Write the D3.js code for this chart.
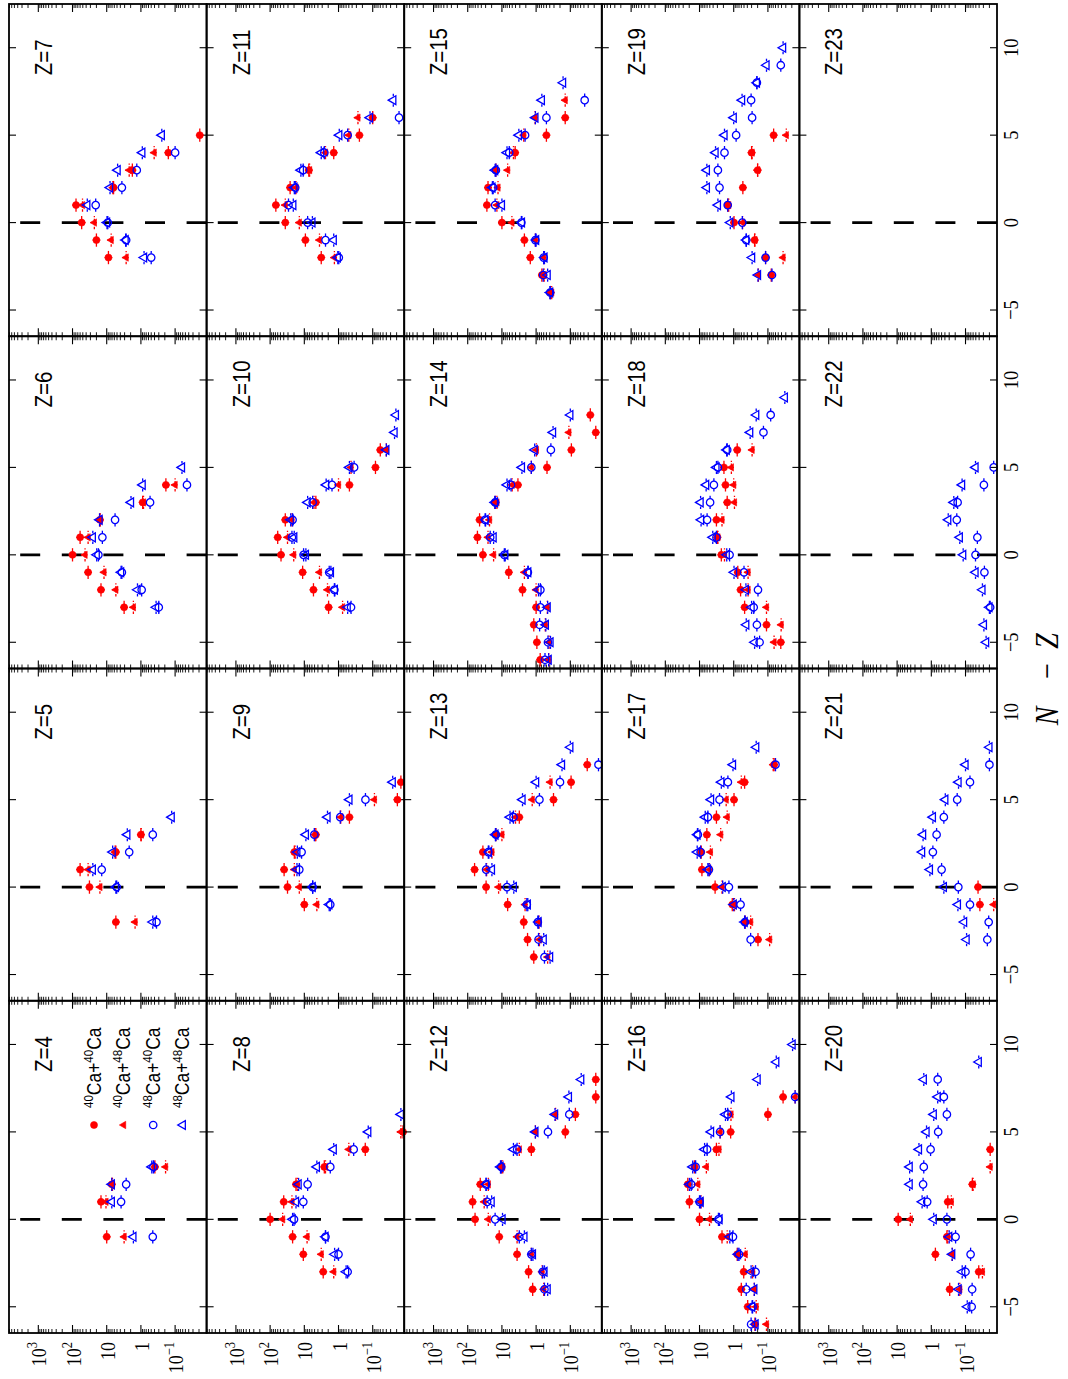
<!DOCTYPE html>
<html><head><meta charset="utf-8">
<script src="https://cdn.jsdelivr.net/npm/d3@7"></script>
<style>body{margin:0;background:#fff}</style>
</head><body>
<svg id="c" width="1068" height="1379" xmlns="http://www.w3.org/2000/svg"></svg>
<script>
// ---------------- data ----------------
const zValues = d3.range(4, 24);               // Z = 4 ... 23
const nzTicks = [-5, 0, 5, 10];
const nzTickLabels = ["\u22125", "0", "5", "10"];
const sigmaTicks = [1e3, 1e2, 1e1, 1, 1e-1];
const sigmaTickLabels = [["10","3"],["10","2"],["10",""],["1",""],["10","\u22121"]];
const legendLabels = [["40","Ca+","40","Ca"],["40","Ca+","48","Ca"],["48","Ca+","40","Ca"],["48","Ca+","48","Ca"]];
const xLabelParts = ["N", "\u2212", "Z"];

// each entry: [N-Z, cross section]
const ca40ca40 = {
 4:[[-1,10],[1,14.7],[2,7.1],[3,0.39]],
 5:[[-2,5.4],[0,32],[1,60],[2,5.4],[3,1.0]],
 6:[[-3,3.1],[-2,14.7],[-1,35],[0,100],[1,60],[2,15.8],[3,0.89],[4,0.186]],
 7:[[-2,8.9],[-1,20],[0,54],[1,79],[2,6.3],[3,1.78],[4,0.158],[5,0.019]],
 8:[[-3,2.8],[-2,10.7],[-1,22],[0,100],[1,40],[2,17.5],[3,2.6],[4,0.165],[5,0.013]],
 9:[[-1,10],[0,31],[1,39],[2,19.6],[3,4.6],[4,0.48],[5,0.019],[6,0.015]],
 10:[[-3,1.95],[-2,5.4],[-1,11.2],[0,48],[1,60],[2,36],[3,4.6],[4,0.48],[5,0.083],[6,0.06]],
 11:[[-2,3.2],[-1,9.3],[0,36],[1,68],[2,26],[3,7.4],[4,1.38],[5,0.245],[6,0.1]],
 12:[[-4,1.26],[-3,1.66],[-2,3.6],[-1,12],[0,61],[1,72],[2,43],[3,10.5],[4,1.38],[5,0.14],[6,0.071],[7,0.018],[8,0.018]],
 13:[[-4,1.17],[-3,1.78],[-2,2.3],[-1,6.8],[0,29],[1,63],[2,36],[3,15],[4,3.1],[5,0.31],[6,0.095],[7,0.032]],
 14:[[-6,0.76],[-5,0.95],[-4,1.17],[-3,1.0],[-2,2.5],[-1,6.3],[0,36],[1,52],[2,45],[3,15.8],[4,3.4],[5,0.48],[6,0.093],[7,0.018],[8,0.026]],
 15:[[-4,0.38],[-3,0.68],[-2,1.48],[-1,2.2],[0,10],[1,27.5],[2,25.5],[3,15],[4,4.1],[5,0.5],[6,0.141]],
 16:[[-6,0.24],[-5,0.39],[-4,0.6],[-3,0.51],[-2,0.79],[-1,2.2],[0,10],[1,19.7],[2,22],[3,14],[4,3.2],[5,1.23],[6,0.1],[7,0.036]],
 17:[[-3,0.195],[-2,0.46],[-1,1.1],[0,3.5],[1,8.5],[2,8.9],[3,6.1],[4,3.2],[5,0.98],[6,0.48],[7,0.066]],
 18:[[-5,0.042],[-4,0.11],[-3,0.48],[-2,0.63],[-1,0.76],[0,2.3],[1,3.0],[2,3.2],[3,1.55],[4,1.74],[5,1.93],[6,0.79]],
 19:[[-3,0.08],[-2,0.117],[-1,0.245],[0,0.98],[1,1.48],[2,0.54],[3,0.2],[4,0.3],[5,0.068]],
 20:[[-4,0.29],[-3,0.041],[-2,0.76],[-1,0.35],[0,9.3],[1,0.33],[2,0.063],[4,0.019]],
 21:[[-1,0.038],[0,0.043]],
 22:[], 23:[]
};
const ca40ca48 = {
 4:[[-1,3.1],[1,10.5],[2,6.8],[3,0.19]],
 5:[[-2,1.48],[0,15.8],[1,35],[2,5.7],[3,0.98]],
 6:[[-3,1.66],[-2,5.4],[-1,12],[0,43],[1,35],[2,15.5],[3,0.84],[4,0.1]],
 7:[[-2,2.7],[-1,7.4],[0,23],[1,51],[2,6.6],[3,2.2],[4,0.41]],
 8:[[-3,1.38],[-2,3.2],[-1,8.3],[0,43],[1,23],[2,16],[3,2.4],[4,0.5],[5,0.015]],
 9:[[-1,4.3],[0,14],[1,19.6],[2,18.5],[3,4.8],[4,0.86],[5,0.089]],
 10:[[-3,0.76],[-2,2.1],[-1,3.6],[0,20.4],[1,31],[2,23],[3,5.2],[4,1.0],[5,0.43],[6,0.04]],
 11:[[-2,1.32],[-1,3.6],[0,14],[1,36],[2,17.5],[3,7.0],[4,2.4],[5,0.5],[6,0.27]],
 12:[[-4,0.6],[-3,0.67],[-2,1.38],[-1,3.6],[0,25],[1,33],[2,25],[3,9.5],[4,3.1],[5,1.05],[6,0.27]],
 13:[[-4,0.46],[-3,0.8],[-2,0.82],[-1,2.1],[0,12.5],[1,28],[2,19.6],[3,10],[4,4],[5,1.3],[6,0.39]],
 14:[[-6,0.43],[-5,0.42],[-4,0.54],[-3,0.47],[-2,1.0],[-1,2.2],[0,17.5],[1,25.5],[2,23],[3,14],[4,5],[5,1.38],[6,0.98],[7,0.11]],
 15:[[-4,0.35],[-3,0.58],[-2,0.6],[-1,1.05],[0,5.1],[1,14],[2,13],[3,6.8],[4,4.6],[5,2.3],[6,1.07],[7,0.141]],
 16:[[-6,0.11],[-5,0.22],[-4,0.25],[-3,0.28],[-2,0.46],[-1,1.55],[0,5.1],[1,9],[2,11.2],[3,6.3],[4,2.7],[5,2.5],[6,1.2],[7,0.016]],
 17:[[-3,0.089],[-2,0.32],[-1,0.95],[0,2.2],[1,5.1],[2,4.8],[3,2.4],[4,1.55],[5,1.66],[6,0.6],[7,0.07]],
 18:[[-5,0.066],[-4,0.041],[-3,0.11],[-2,0.38],[-1,0.38],[0,1.86],[1,2.9],[2,2.2],[3,0.95],[4,1.0],[5,1.17],[6,0.29]],
 19:[[-3,0.19],[-2,0.036],[-1,0.24],[0,0.55],[1,1.4],[3,0.2],[4,0.29],[5,0.029]],
 20:[[-4,0.147],[-3,0.032],[-2,0.245],[-1,0.33],[0,4.1],[1,0.26],[2,0.06],[3,0.019]],
 21:[[-1,0.015]],
 22:[], 23:[]
};
const ca48ca40 = {
 4:[[-1,0.45],[1,3.8],[2,2.7],[3,0.43]],
 5:[[-2,0.35],[0,5.1],[1,14],[2,2.2],[3,0.45]],
 6:[[-3,0.3],[-2,0.95],[-1,3.6],[0,17.5],[1,13.4],[2,5.7],[3,0.54],[4,0.045]],
 7:[[-2,0.5],[-1,2.7],[0,9.3],[1,21],[2,3.6],[3,1.32],[4,0.1]],
 8:[[-3,0.54],[-2,1.0],[-1,2.4],[0,20],[1,10.7],[2,8],[3,1.74],[4,0.36]],
 9:[[-1,1.74],[0,5.7],[1,14],[2,12],[3,5.1],[4,0.89],[5,0.163]],
 10:[[-3,0.43],[-2,1.32],[-1,1.87],[0,10.5],[1,23],[2,22],[3,5.7],[4,1.55],[5,0.35]],
 11:[[-2,0.98],[-1,2.4],[0,8],[1,29],[2,18.4],[3,10.8],[4,2.6],[5,0.54],[6,0.017]],
 12:[[-4,0.57],[-3,0.64],[-2,1.38],[-1,3.1],[0,15.8],[1,27],[2,29],[3,10.5],[4,3.6],[5,0.45],[6,0.107]],
 13:[[-4,0.57],[-3,0.85],[-2,0.89],[-1,1.87],[0,7.1],[1,29],[2,25],[3,15],[4,4.6],[5,0.8],[6,0.2],[7,0.015]],
 14:[[-6,0.55],[-5,0.45],[-4,0.79],[-3,0.75],[-2,0.75],[-1,1.74],[0,8.5],[1,22],[2,31],[3,15.8],[4,5.4],[5,1.38],[6,0.37]],
 15:[[-4,0.39],[-3,0.62],[-2,0.6],[-1,1.05],[0,2.7],[1,15.8],[2,18],[3,15],[4,6.1],[5,2.1],[6,0.5],[7,0.038]],
 16:[[-6,0.31],[-5,0.28],[-4,0.43],[-3,0.23],[-2,0.7],[-1,1.05],[0,2.8],[1,10],[2,17.5],[3,13],[4,6],[5,2.5],[6,1.5],[7,0.016]],
 17:[[-3,0.32],[-2,0.47],[-1,0.63],[0,1.38],[1,5.3],[2,9.3],[3,11.2],[4,5.7],[5,2.6],[6,1.48],[7,0.06]],
 18:[[-5,0.175],[-4,0.21],[-3,0.26],[-2,0.195],[-1,0.5],[0,1.32],[1,3.2],[2,6],[3,4.9],[4,3.8],[5,2.9],[6,1.55],[7,0.135],[8,0.083]],
 19:[[-3,0.076],[-2,0.117],[-1,0.43],[0,0.56],[1,1.5],[2,2.6],[3,2.9],[4,1.86],[5,0.85],[6,0.29],[7,0.31],[8,0.21],[9,0.042]],
 20:[[-5,0.066],[-4,0.064],[-3,0.1],[-2,0.071],[-1,0.195],[0,0.35],[1,1.32],[2,1.74],[3,1.66],[4,1.05],[5,0.63],[6,0.35],[7,0.43],[8,0.65]],
 21:[[-3,0.023],[-2,0.021],[-1,0.074],[0,0.162],[1,0.5],[2,0.9],[3,0.7],[4,0.43],[5,0.175],[6,0.074],[7,0.02]],
 22:[[-3,0.019],[-1,0.028],[0,0.051],[1,0.045],[2,0.18],[3,0.17],[4,0.029],[5,0.015]],
 23:[]
};
const ca48ca48 = {
 4:[[-1,1.66],[1,7.1],[2,7.1],[3,0.48]],
 5:[[-2,0.45],[0,5.4],[1,25.5],[2,6.7],[3,2.5],[4,0.126]],
 6:[[-3,0.36],[-2,1.26],[-1,3.8],[0,19.6],[1,25.5],[2,16.2],[3,1.95],[4,0.89],[5,0.063]],
 7:[[-2,0.81],[-1,2.8],[0,9.8],[1,37],[2,8],[3,4.8],[4,0.91],[5,0.245]],
 8:[[-3,0.6],[-2,1.3],[-1,2.4],[0,22],[1,17.5],[2,14.7],[3,4.3],[4,1.38],[5,0.135],[6,0.015]],
 9:[[-1,1.87],[0,5.7],[1,16.4],[2,16],[3,9],[4,2.1],[5,0.48],[6,0.026]],
 10:[[-3,0.54],[-2,1.28],[-1,1.67],[0,9],[1,19.7],[2,25],[3,8],[4,2.3],[5,0.48],[6,0.04],[7,0.023],[8,0.021]],
 11:[[-2,1.05],[-1,1.38],[0,5.8],[1,21],[2,19.6],[3,12.6],[4,3.2],[5,0.95],[6,0.12],[7,0.025]],
 12:[[-4,0.46],[-3,0.57],[-2,1.24],[-1,2.2],[0,9.6],[1,20],[2,29],[3,11],[4,4.6],[5,1.05],[6,0.28],[7,0.11],[8,0.048]],
 13:[[-4,0.39],[-3,0.6],[-2,0.85],[-1,1.75],[0,4.5],[1,19.6],[2,24],[3,15.5],[4,5.8],[5,2.5],[6,1.0],[7,0.175],[8,0.1]],
 14:[[-6,0.43],[-5,0.38],[-4,0.52],[-3,0.46],[-2,0.85],[-1,1.7],[0,8],[1,17.5],[2,30],[3,16],[4,7.1],[5,2.6],[6,1.1],[7,0.32],[8,0.1]],
 15:[[-4,0.39],[-3,0.46],[-2,0.57],[-1,1.0],[0,2.6],[1,10],[2,19],[3,15.8],[4,7.1],[5,3.2],[6,1.05],[7,0.68],[8,0.163]],
 16:[[-6,0.23],[-5,0.29],[-4,0.25],[-3,0.31],[-2,0.75],[-1,1.3],[0,2.6],[1,9.3],[2,19.7],[3,15.8],[4,7.1],[5,4.6],[6,1.74],[7,1.17],[8,0.2],[9,0.057],[10,0.019]],
 17:[[-2,0.48],[-1,1.0],[0,2.1],[1,5.7],[2,11.7],[3,11.5],[4,6.8],[5,4.6],[6,2.3],[7,1.05],[8,0.22]],
 18:[[-5,0.245],[-4,0.43],[-3,0.3],[-2,0.44],[-1,0.98],[0,1.6],[1,4.1],[2,9],[3,9.3],[4,6.4],[5,3.2],[6,1.6],[7,0.33],[8,0.22],[9,0.032]],
 19:[[-3,0.195],[-2,0.29],[-1,0.43],[0,1.26],[1,2.9],[2,6.1],[3,6.1],[4,3.4],[5,1.86],[6,1.0],[7,0.57],[8,0.21],[9,0.11],[10,0.036]],
 20:[[-5,0.089],[-4,0.16],[-3,0.125],[-2,0.245],[-1,0.3],[0,0.85],[1,1.86],[2,4.3],[3,4.3],[4,2.3],[5,1.38],[6,0.85],[7,0.65],[8,1.66],[9,0.041]],
 21:[[-3,0.093],[-2,0.11],[-1,0.167],[0,0.43],[1,1.1],[2,1.86],[3,1.74],[4,0.9],[5,0.39],[6,0.16],[7,0.1],[8,0.02]],
 22:[[-5,0.025],[-4,0.029],[-3,0.02],[-2,0.032],[-1,0.051],[0,0.117],[1,0.147],[2,0.32],[3,0.22],[4,0.126],[5,0.051]],
 23:[]
};
const relErr = 0.3;      // relative cross-section error drawn as bars
const nzErr = 0.38;      // half-width of the N-Z bar

// ---------------- styles / layout ----------------
const RED = "#ff0000", BLUE = "#0000ff";
const series = [
  {data: ca40ca40, color: RED,  shape: "circle",   filled: true,  dash: null},
  {data: ca40ca48, color: RED,  shape: "triangle", filled: true,  dash: "2.5,1.5"},
  {data: ca48ca40, color: BLUE, shape: "circle",   filled: false, dash: null},
  {data: ca48ca48, color: BLUE, shape: "triangle", filled: false, dash: "2.5,1.5"}
];
const W = 1379, H = 1068;          // unrotated drawing size
const left0 = 46, top0 = 9, pW = 332.25, pH = 197.6;
const serif = "'Liberation Serif','Times New Roman',Times,serif";
const sans = "'Liberation Sans',Arial,Helvetica,sans-serif";
const STRETCH = 1.18;              // glyphs in the reference are taller than wide

const svg = d3.select("#c");
svg.append("rect").attr("width",1068).attr("height",1379).attr("fill","#fff");
const root = svg.append("g").attr("transform", `translate(0,${W}) rotate(-90)`);

const x = d3.scaleLinear().domain([-6.5, 12.5]).range([0, pW]);
const y = d3.scaleLog().domain([0.012, 7200]).range([pH, 0]);

const minorY = [];
for (let d = -2; d <= 3; d++) for (let k = 2; k <= 9; k++) {
  const v = k * Math.pow(10, d);
  if (v > y.domain()[0] && v < y.domain()[1]) minorY.push(v);
}

function markerPath(shape, filled) {
  if (shape === "circle") {
    const r = filled ? 3.5 : 3.7;
    return `M${r},0A${r},${r},0,1,1,${-r},0A${r},${r},0,1,1,${r},0Z`;
  }
  const w = filled ? 3.7 : 4.4, h = filled ? 6.4 : 7.6;
  return `M0,${-h*2/3}L${w},${h/3}L${-w},${h/3}Z`;
}
function markerRadius(s) { return s.shape === "circle" ? 3.7 : 4.0; }

function stretchedText(parent, px, py, size, family, anchor) {
  return parent.append("text")
    .attr("transform", `translate(${px},${py}) scale(1,${STRETCH})`)
    .attr("font-family", family).attr("font-size", size)
    .attr("text-anchor", anchor);
}

zValues.forEach((z, i) => {
  const col = i % 4, row = Math.floor(i / 4);
  const g = root.append("g").attr("transform", `translate(${left0 + col*pW},${top0 + row*pH})`);

  // y ticks (log)
  minorY.forEach(v => {
    g.append("line").attr("x1",0).attr("x2",4).attr("y1",y(v)).attr("y2",y(v)).attr("stroke","#000").attr("stroke-width",0.9);
    g.append("line").attr("x1",pW).attr("x2",pW-4).attr("y1",y(v)).attr("y2",y(v)).attr("stroke","#000").attr("stroke-width",0.9);
  });
  sigmaTicks.forEach(v => {
    g.append("line").attr("x1",0).attr("x2",8).attr("y1",y(v)).attr("y2",y(v)).attr("stroke","#000").attr("stroke-width",1.1);
    g.append("line").attr("x1",pW).attr("x2",pW-8).attr("y1",y(v)).attr("y2",y(v)).attr("stroke","#000").attr("stroke-width",1.1);
  });
  // x ticks
  nzTicks.forEach(t => {
    g.append("line").attr("x1",x(t)).attr("x2",x(t)).attr("y1",0).attr("y2",7).attr("stroke","#000").attr("stroke-width",1.1);
    g.append("line").attr("x1",x(t)).attr("x2",x(t)).attr("y1",pH).attr("y2",pH-7).attr("stroke","#000").attr("stroke-width",1.1);
  });
  // zero line
  g.append("line").attr("x1",x(0)).attr("x2",x(0)).attr("y1",pH).attr("y2",0)
    .attr("stroke","#000").attr("stroke-width",2.6).attr("stroke-dasharray","20,21.6");

  // data
  series.forEach(s => {
    const pts = s.data[z] || [];
    const r = s.filled ? 0 : markerRadius(s);
    const bars = g.append("g").attr("stroke", s.color).attr("stroke-width",1.3)
      .attr("stroke-dasharray", s.dash).attr("fill","none");
    pts.forEach(([n, v]) => {
      const cx = x(n), cy = y(v);
      const x0 = x(n - nzErr), x1 = x(n + nzErr);
      const y0 = y(v * (1 + relErr)), y1 = y(v / (1 + relErr));
      const segs = r > 0
        ? [[x0,cy,cx-r,cy],[cx+r,cy,x1,cy],[cx,y0,cx,Math.min(cy-r,y1)],[cx,Math.max(cy+r,y0),cx,y1]]
        : [[x0,cy,x1,cy],[cx,y0,cx,y1]];
      segs.forEach(([a,b,c,d]) => {
        if ((c-a)*(c-a)+(d-b)*(d-b) < 0.5) return;
        bars.append("line").attr("x1",a).attr("y1",b).attr("x2",c).attr("y2",d);
      });
    });
    g.append("g").selectAll("path").data(pts).join("path")
      .attr("transform", d => `translate(${x(d[0])},${y(d[1])})`)
      .attr("d", markerPath(s.shape, s.filled))
      .attr("fill", s.filled ? s.color : "none")
      .attr("stroke", s.color).attr("stroke-width", s.filled ? 0.6 : 1.3);
  });

  // frame
  g.append("rect").attr("width",pW).attr("height",pH).attr("fill","none")
    .attr("stroke","#000").attr("stroke-width",1.8);

  // Z label
  stretchedText(g, 261, 43, 20.5, sans, "start").text("Z=" + z);

  // y tick labels on first column
  if (col === 0) {
    sigmaTicks.forEach((t, k) => {
      const txt = stretchedText(g, -9, y(t) + 8, 18, serif, "end");
      txt.append("tspan").text(sigmaTickLabels[k][0]);
      if (sigmaTickLabels[k][1]) txt.append("tspan").attr("dy",-7.5).attr("font-size",12.5).text(sigmaTickLabels[k][1]);
    });
  }
  // x tick labels on last row
  if (row === 4) {
    nzTicks.forEach((t, k) => {
      stretchedText(g, x(t), pH + 21, 18.5, serif, "middle").text(nzTickLabels[k]);
    });
  }
  // legend in first panel
  if (i === 0) {
    series.forEach((s, k) => {
      const ly = 85 + k*29.6;
      g.append("path").attr("transform",`translate(208,${ly})`).attr("d",markerPath(s.shape,s.filled))
        .attr("fill", s.filled ? s.color : "none").attr("stroke", s.color).attr("stroke-width", s.filled ? 0.6 : 1.3);
      const t = stretchedText(g, 225, ly + 6.5, 17.5, sans, "start");
      const L = legendLabels[k];
      t.append("tspan").attr("font-size",11.5).attr("dy",-6.5).text(L[0]);
      t.append("tspan").attr("dy",6.5).text(L[1]);
      t.append("tspan").attr("font-size",11.5).attr("dy",-6.5).text(L[2]);
      t.append("tspan").attr("dy",6.5).text(L[3]);
    });
  }
});

// axis title  N − Z
const titleX = [663, 708, 738];
xLabelParts.forEach((p, k) => {
  stretchedText(root, titleX[k], 1058, 28, serif, "middle")
    .attr("font-style", k === 1 ? "normal" : "italic").text(p);
});
</script>
</body></html>
